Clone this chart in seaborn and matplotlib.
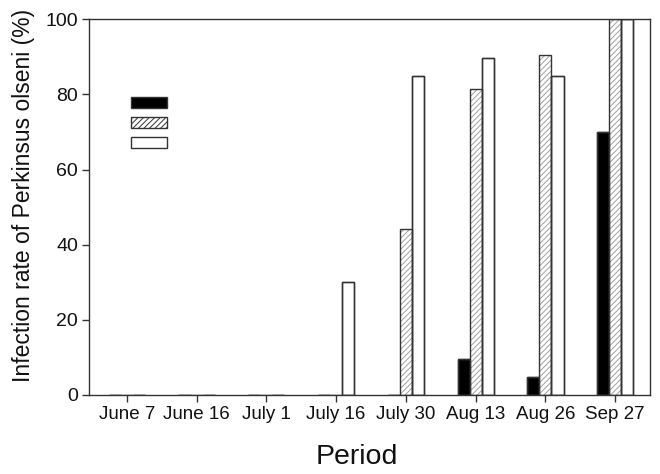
import matplotlib
matplotlib.use("Agg")
import matplotlib.pyplot as plt
import seaborn as sns
import pandas as pd
from matplotlib.patches import Patch

periods = ["June 7", "June 16", "July 1", "July 16", "July 30", "Aug 13", "Aug 26", "Sep 27"]
series_a = [0, 0, 0, 0, 0, 9.6, 4.7, 70]      # black
series_b = [0, 0, 0, 0, 44.2, 81.4, 90.4, 100]  # hatched
series_c = [0, 0, 0, 30, 84.9, 89.6, 84.9, 100]  # white
series_names = ["A", "B", "C"]

df = pd.DataFrame({
    "Period": periods * 3,
    "Rate": series_a + series_b + series_c,
    "Series": [series_names[0]] * 8 + [series_names[1]] * 8 + [series_names[2]] * 8,
})

sns.set_style("ticks")
plt.rcParams["font.family"] = ["Liberation Sans", "DejaVu Sans"]
plt.rcParams["hatch.linewidth"] = 0.7

fig = plt.figure(figsize=(6.6, 4.74), dpi=100)
ax = fig.add_axes([0.135, 0.1667, 0.85, 0.7926])

fills = ["black", "white", "white"]
sns.barplot(data=df, x="Period", y="Rate", hue="Series", order=periods,
            hue_order=series_names, palette=fills, width=0.52, gap=0,
            edgecolor="#333333", linewidth=1.0, legend=False, ax=ax, errorbar=None)

hatches = ["", "//////", ""]
HATCH_GRAY = "#a0a0a0"
has_hc = hasattr(matplotlib.patches.Patch, "set_hatchcolor")

def style_hatch(p, h):
    p.set_hatch(h)
    if h and has_hc:
        p.set_hatchcolor(HATCH_GRAY)

for cont, h in zip(ax.containers, hatches):
    for p in cont:
        style_hatch(p, h)

if not has_hc:
    for p in ax.containers[1]:
        p.set_edgecolor(HATCH_GRAY)
        p.set_linewidth(0)
    sns.barplot(data=df, x="Period", y="Rate", hue="Series", order=periods,
                hue_order=series_names, palette=fills, width=0.52, gap=0,
                fill=False, edgecolor="#333333", linewidth=1.0, legend=False,
                ax=ax, errorbar=None)

ax.set_xlim(-0.54, 7.5)
ax.set_ylim(0, 100)
ax.set_yticks([0, 20, 40, 60, 80, 100])
for s in ax.spines.values():
    s.set_color("#333333")
    s.set_linewidth(1.0)
    s.set_visible(True)
ax.tick_params(axis="both", direction="out", length=5, width=1, color="#333333",
               labelsize=13.5, pad=3, labelcolor="#111111")
ax.tick_params(axis="y", labelsize=14)
ax.set_xlabel("Period", fontsize=20.5, color="#111111")
ax.set_ylabel("Infection rate of Perkinsus olseni (%)", fontsize=16.5, color="#111111")
ax.xaxis.set_label_coords(0.478, -0.13)
ax.yaxis.set_label_coords(-0.097, 0.53)

handles = []
for f, h in zip(fills, hatches):
    hp = Patch(facecolor=f, edgecolor="#333333", hatch=h, linewidth=1.0)
    if h and has_hc:
        hp.set_hatchcolor(HATCH_GRAY)
    handles.append(hp)
ax.legend(handles, ["", "", ""], loc="upper left", bbox_to_anchor=(0.0749, 0.795),
          frameon=False, handlelength=2.6, handleheight=0.79, labelspacing=0.43,
          handletextpad=0, borderpad=0, borderaxespad=0, fontsize=10)

fig.savefig("out.png", dpi=100)
